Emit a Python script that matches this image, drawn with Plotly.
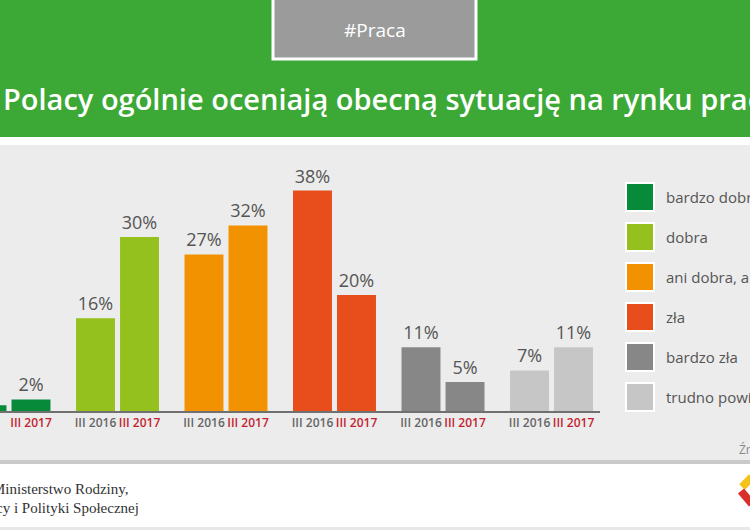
import plotly.graph_objects as go

# ---- data ----
categories = ["bardzo dobra", "dobra", "ani dobra, ani zła", "zła", "bardzo zła", "trudno powiedzieć"]
periods = ["III 2016", "III 2017"]
values_2016 = [1, 16, 27, 38, 11, 7]
values_2017 = [2, 30, 32, 20, 5, 11]
colors = ["#078a3a", "#95c11f", "#f39200", "#e84e1b", "#878787", "#c6c6c6"]
period_colors = ["#666666", "#c41f30"]

W, H = 750, 530
ML, MR, MT, MB = 0, 150, 150, 119
PW = W - ML - MR
PH = H - MT - MB


def xp(px):
    return (px - ML) / PW


def yp(py):
    return (H - MB - py) / PH


OFF = 0.2028
BW = 0.359

fig = go.Figure()
tickvals, ticktext = [], []
for i, cat in enumerate(categories):
    xs = [i - OFF, i + OFF]
    ys = [values_2016[i], values_2017[i]]
    fig.add_trace(go.Bar(
        x=xs, y=ys, width=BW, name=cat,
        marker=dict(color=colors[i], line=dict(width=0)),
        text=[f"{v}%" for v in ys], textposition="outside",
        textfont=dict(family="Open Sans", size=18, color="#555555"),
        cliponaxis=False, hoverinfo="skip", showlegend=False,
    ))
    for j, p in enumerate(periods):
        tickvals.append(xs[j])
        ticktext.append(f"<span style='color:{period_colors[j]}'>{p}</span>")

shapes = []
# header
shapes.append(dict(type="rect", xref="paper", yref="paper", x0=xp(0), x1=xp(W), y0=yp(0), y1=yp(137),
                   fillcolor="#3ca836", line=dict(width=0), layer="below"))
# grey panel
shapes.append(dict(type="rect", xref="paper", yref="paper", x0=xp(0), x1=xp(W), y0=yp(145), y1=yp(461),
                   fillcolor="#ececec", line=dict(width=0), layer="below"))
shapes.append(dict(type="rect", xref="paper", yref="paper", x0=xp(0), x1=xp(W), y0=yp(460), y1=yp(464),
                   fillcolor="#c9c9c9", line=dict(width=0), layer="below"))
shapes.append(dict(type="rect", xref="paper", yref="paper", x0=xp(0), x1=xp(W), y0=yp(527), y1=yp(530),
                   fillcolor="#e8e8e8", line=dict(width=0), layer="below"))
# #Praca box
shapes.append(dict(type="rect", xref="paper", yref="paper", x0=xp(273), x1=xp(476), y0=yp(-5), y1=yp(59),
                   fillcolor="#9b9b9b", line=dict(color="white", width=3), layer="below"))
# logo strokes
shapes.append(dict(type="line", xref="paper", yref="paper", x0=xp(742), y0=yp(487), x1=xp(752), y1=yp(477),
                   line=dict(color="#f6c21a", width=8)))
shapes.append(dict(type="line", xref="paper", yref="paper", x0=xp(741), y0=yp(491), x1=xp(752), y1=yp(504),
                   line=dict(color="#d9302a", width=8)))

annotations = []
# legend
for k, cat in enumerate(categories):
    cy = 197 + 40 * k
    shapes.append(dict(type="rect", xref="paper", yref="paper", x0=xp(626), x1=xp(654),
                       y0=yp(cy + 14), y1=yp(cy - 14), fillcolor=colors[k],
                       line=dict(color="white", width=2)))
    annotations.append(dict(xref="paper", yref="paper", x=xp(664), y=yp(cy), text=cat,
                            showarrow=False, xanchor="left", yanchor="middle",
                            font=dict(family="Open Sans", size=15, color="#555555")))

annotations += [
    dict(xref="paper", yref="paper", x=xp(375), y=yp(30), text="#Praca", showarrow=False,
         xanchor="center", yanchor="middle", font=dict(family="Open Sans", size=19, color="white")),
    dict(xref="paper", yref="paper", x=xp(1), y=yp(99),
         text="Polacy ogólnie oceniają obecną sytuację na rynku pracy", showarrow=False,
         xanchor="left", yanchor="middle",
         font=dict(family="Open Sans", size=29, color="white", weight=600)),
    dict(xref="paper", yref="paper", x=xp(737), y=yp(449), text="Źródło: CBOS", showarrow=False,
         xanchor="left", yanchor="middle", font=dict(family="Open Sans", size=12, color="#888888")),
    dict(xref="paper", yref="paper", x=xp(131), y=yp(489), text="Ministerstwo Rodziny,", showarrow=False,
         xanchor="right", yanchor="middle", font=dict(family="Liberation Serif", size=15, color="#333333")),
    dict(xref="paper", yref="paper", x=xp(141), y=yp(508), text="Pracy i Polityki Społecznej", showarrow=False,
         xanchor="right", yanchor="middle", font=dict(family="Liberation Serif", size=15, color="#333333")),
]

fig.update_layout(
    width=W, height=H,
    margin=dict(l=ML, r=MR, t=MT, b=MB, pad=0),
    paper_bgcolor="white", plot_bgcolor="rgba(0,0,0,0)",
    showlegend=False, barmode="overlay",
    shapes=shapes, annotations=annotations,
    xaxis=dict(range=[-0.0829, 5.447], tickvals=tickvals, ticktext=ticktext,
               showgrid=False, zeroline=False, showline=True, linecolor="#707070", linewidth=2,
               ticks="", tickfont=dict(family="Open Sans", size=12, color="#666666", weight=600),
               fixedrange=True),
    yaxis=dict(range=[0, 45], visible=False, fixedrange=True),
)

fig.write_html("out.html", config={"displayModeBar": False},
               post_script="document.body.style.margin='0';document.body.style.overflow='hidden';")
